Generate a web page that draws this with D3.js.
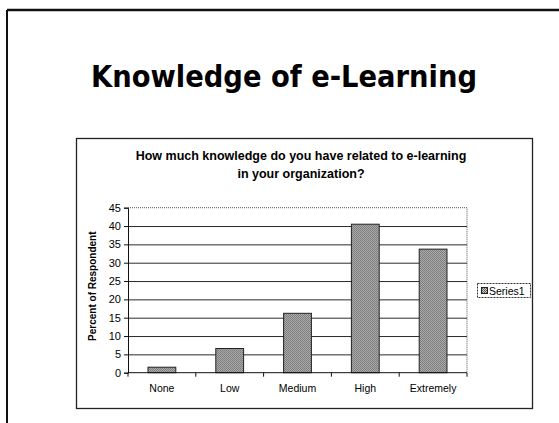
<!DOCTYPE html>
<html>
<head>
<meta charset="utf-8">
<script src="https://cdn.jsdelivr.net/npm/d3@7"></script>
<style>
  body { margin: 0; background: #fff; }
  svg { display: block; }
</style>
</head>
<body>
<svg id="vis1" width="559" height="423"></svg>
<script>
// data
var categories = ["None", "Low", "Medium", "High", "Extremely"];
var values = [1.5, 6.6, 16.2, 40.5, 33.7];
var yTicks = [0, 5, 10, 15, 20, 25, 30, 35, 40, 45];
var seriesName = "Series1";

var svg = d3.select("svg#vis1");

// slide frame (top + left edge, rest runs off the picture)
svg.append("line").attr("x1", 7).attr("y1", 10).attr("x2", 559).attr("y2", 10)
    .attr("stroke", "#111").attr("stroke-width", 2.5);
svg.append("line").attr("x1", 7).attr("y1", 10).attr("x2", 7).attr("y2", 423)
    .attr("stroke", "#111").attr("stroke-width", 2);

// slide title
svg.append("text")
    .attr("x", 284)
    .attr("y", 87)
    .attr("text-anchor", "middle")
    .attr("textLength", 386)
    .attr("lengthAdjust", "spacingAndGlyphs")
    .style("font-family", "'DejaVu Sans Condensed', 'DejaVu Sans', sans-serif")
    .style("font-weight", "bold")
    .style("font-size", "30px")
    .style("fill", "#000")
    .text("Knowledge of e-Learning");

// chart box
svg.append("rect")
    .attr("x", 76.5).attr("y", 138.5)
    .attr("width", 456).attr("height", 270)
    .attr("fill", "none")
    .attr("stroke", "#222")
    .attr("stroke-width", 1.3);

// stippled fill like the scanned bars
var defs = svg.append("defs");
var pat = defs.append("pattern")
    .attr("id", "stipple")
    .attr("patternUnits", "userSpaceOnUse")
    .attr("width", 2).attr("height", 2);
pat.append("rect").attr("width", 2).attr("height", 2).attr("fill", "#c8c8c8");
pat.append("rect").attr("width", 1).attr("height", 1).attr("fill", "#5a5a5a");
pat.append("rect").attr("x", 1).attr("y", 1).attr("width", 1).attr("height", 1).attr("fill", "#666");

// chart title
var chartTitle = svg.append("text")
    .attr("text-anchor", "middle")
    .style("font-family", "'Liberation Sans', Arial, sans-serif")
    .style("font-weight", "bold")
    .style("font-size", "12.5px")
    .style("fill", "#000");
chartTitle.append("tspan").attr("x", 301).attr("y", 160)
    .text("How much knowledge do you have related to e-learning");
chartTitle.append("tspan").attr("x", 301).attr("y", 178)
    .text("in your organization?");

var margin = { top: 207.7, left: 128, right: 467, bottom: 372.7 };
var plotWidth = margin.right - margin.left;
var plotHeight = margin.bottom - margin.top;

var yScale = d3.scaleLinear()
    .domain([0, 45])
    .range([plotHeight, 0]);

var xScale = d3.scaleBand()
    .domain(categories)
    .range([0, plotWidth])
    .paddingInner(0.59)
    .paddingOuter(0.295);

var xBands = d3.scaleBand()
    .domain(categories)
    .range([0, plotWidth]);

var plot = svg.append("g").attr("id", "plot")
    .attr("transform", "translate(" + margin.left + "," + margin.top + ")");

// plot area border (dotted top/right)
plot.append("path")
    .attr("d", "M0,0H" + plotWidth + "V" + plotHeight)
    .attr("fill", "none")
    .attr("stroke", "#555")
    .attr("stroke-width", 1)
    .attr("stroke-dasharray", "1,1");

// gridlines
var gridlines = d3.axisLeft(yScale)
    .tickValues(yTicks.filter(function (t) { return t > 0 && t < 45; }))
    .tickFormat("")
    .tickSize(-plotWidth);
plot.append("g")
    .attr("class", "grid")
    .call(gridlines)
    .call(function (g) { g.select(".domain").remove(); })
    .selectAll("line")
    .attr("stroke", "#2a2a2a")
    .attr("stroke-width", 1);

// bars
plot.selectAll("rect.bar")
    .data(values)
    .enter().append("rect")
    .attr("class", "bar")
    .attr("x", function (d, i) { return xScale(categories[i]); })
    .attr("y", function (d) { return yScale(d); })
    .attr("width", xScale.bandwidth())
    .attr("height", function (d) { return plotHeight - yScale(d); })
    .attr("fill", "url(#stipple)")
    .attr("stroke", "#222")
    .attr("stroke-width", 1);

// y axis
var yAxis = d3.axisLeft(yScale).tickValues(yTicks).tickSize(4).tickPadding(3);
var yGroup = plot.append("g").attr("id", "y-axis").call(yAxis);
yGroup.select(".domain").attr("stroke", "#111");
yGroup.selectAll("line").attr("stroke", "#111");
yGroup.selectAll("text")
    .style("font-family", "'Liberation Sans', Arial, sans-serif")
    .style("font-size", "11px")
    .style("fill", "#000");

// x axis
var xAxis = d3.axisBottom(xBands).tickSize(0).tickPadding(12);
var xGroup = plot.append("g").attr("id", "x-axis")
    .attr("transform", "translate(0," + plotHeight + ")")
    .call(xAxis);
xGroup.select(".domain").attr("stroke", "#111").attr("d", "M0,0H" + plotWidth);
xGroup.selectAll("text")
    .style("font-family", "'Liberation Sans', Arial, sans-serif")
    .style("font-size", "10.5px")
    .style("fill", "#000");
// tick marks between categories
xGroup.selectAll("line.sep")
    .data(categories.concat(["end"]))
    .enter().append("line")
    .attr("class", "sep")
    .attr("x1", function (d, i) { return i * xBands.step(); })
    .attr("x2", function (d, i) { return i * xBands.step(); })
    .attr("y1", 0).attr("y2", 4)
    .attr("stroke", "#111");

// y axis title
plot.append("text")
    .attr("transform", "translate(-32," + (plotHeight / 2 - 4) + ") rotate(-90)")
    .attr("text-anchor", "middle")
    .style("font-family", "'Liberation Sans', Arial, sans-serif")
    .style("font-weight", "bold")
    .style("font-size", "10px")
    .style("fill", "#000")
    .text("Percent of Respondent");

// legend
var legend = svg.append("g").attr("id", "legend");
legend.append("rect")
    .attr("x", 477.5).attr("y", 283.5)
    .attr("width", 53).attr("height", 14)
    .attr("fill", "#fff")
    .attr("stroke", "#333")
    .attr("stroke-dasharray", "2,1");
legend.append("rect")
    .attr("x", 481.5).attr("y", 287.5)
    .attr("width", 6).attr("height", 6)
    .attr("fill", "url(#stipple)")
    .attr("stroke", "#222");
legend.append("text")
    .attr("x", 489)
    .attr("y", 294.5)
    .style("font-family", "'Liberation Sans', Arial, sans-serif")
    .style("font-size", "10.5px")
    .style("fill", "#000")
    .text(seriesName);
</script>
</body>
</html>
